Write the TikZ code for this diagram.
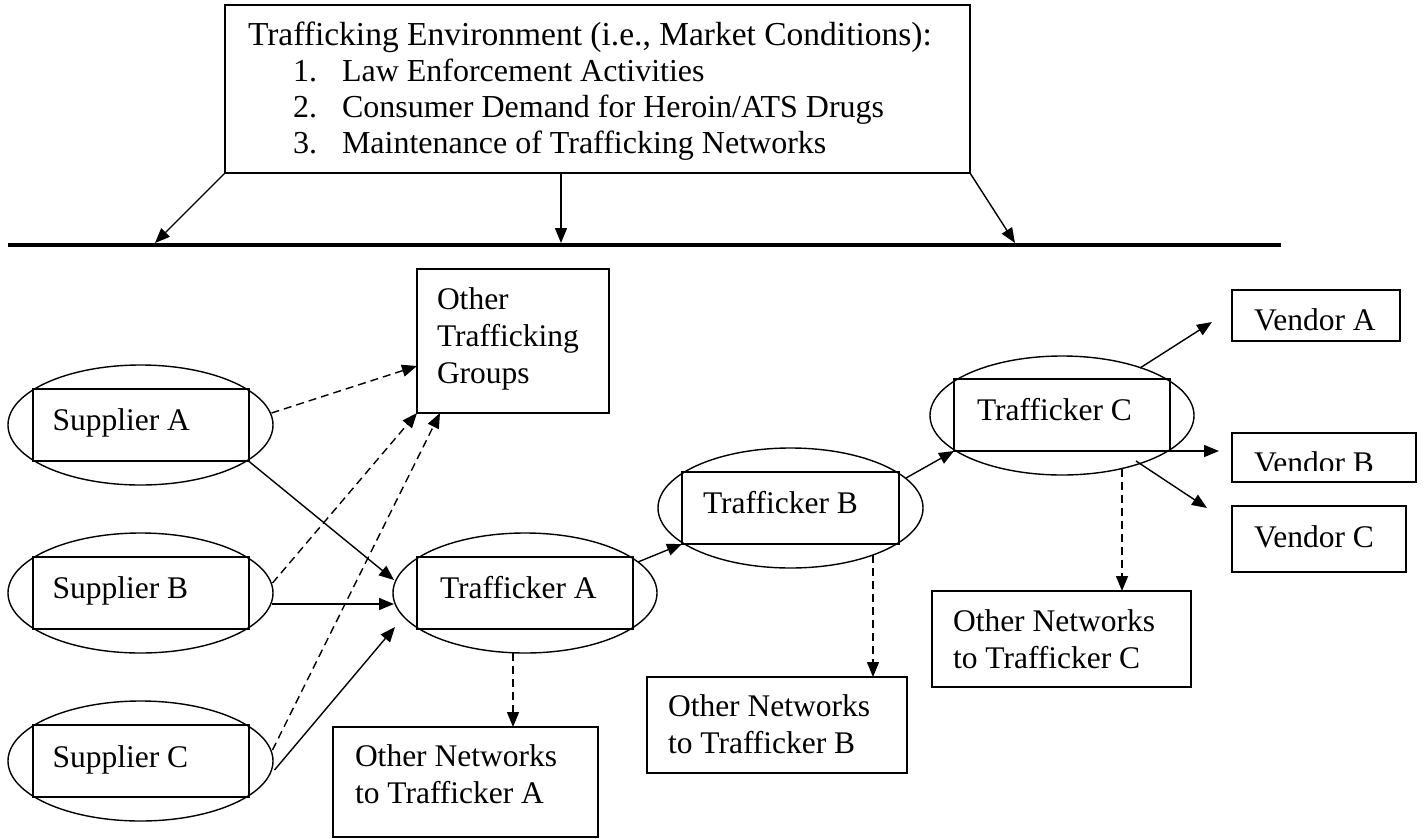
\documentclass[tikz,border=0pt]{standalone}
\usepackage{fontspec}
\setmainfont{Liberation Serif}
\usetikzlibrary{shapes.geometric,arrows.meta,calc}
\begin{document}
\begin{tikzpicture}[x=1pt,y=-1pt,
  rbox/.style={draw, rectangle, line width=2pt, inner sep=0, outer sep=0},
  ell/.style={draw, ellipse, line width=1.4pt, inner sep=0, outer sep=0},
  txt/.style={inner sep=0, outer sep=0, anchor=base west, align=left, font=\fontsize{31.5}{36.5}\selectfont},
  toptxt/.style={txt, font=\fontsize{32}{36}\selectfont},
  arr/.style={line width=1.4pt, -{Triangle[length=15pt,width=12pt]}},
  dsh/.style={arr, dash pattern=on 8pt off 5pt},
]
\useasboundingbox (0,0) rectangle (1424,838);

% top box
\node[rbox, minimum width=745, minimum height=168] (env) at (597.5,89) {};
\node[toptxt, font=\fontsize{33.5}{36}\selectfont] (envT) at (248,45) {Trafficking Environment (i.e., Market Conditions):};
\node[toptxt] (e1n) at (293,81) {1.};
\node[toptxt] (e1) at (342,81) {Law Enforcement Activities};
\node[toptxt] (e2n) at (293,117) {2.};
\node[toptxt] (e2) at (342,117) {Consumer Demand for Heroin/ATS Drugs};
\node[toptxt] (e3n) at (293,153) {3.};
\node[toptxt] (e3) at (342,153) {Maintenance of Trafficking Networks};

% horizontal bar
\coordinate (hl1) at (8,245);
\coordinate (hl2) at (1281,245);
\draw[line width=4pt] (hl1) -- (hl2);
\coordinate (t1) at (155,243);
\coordinate (t2) at (561,243);
\coordinate (t3) at (1015,243);
\draw[arr] (env.south west) -- (t1);
\draw[arr] (env.south -| t2) -- (t2);
\draw[arr] (env.south east) -- (t3);

% suppliers
\node[ell, minimum width=265, minimum height=120] (saE) at (140.5,425) {};
\node[rbox, minimum width=216, minimum height=72] (saR) at (140.5,425) {};
\node[txt] (saT) at ($(saR.west)+(20,5)$) {Supplier A};
\node[ell, minimum width=265, minimum height=120] (sbE) at (140.5,593) {};
\node[rbox, minimum width=216, minimum height=72] (sbR) at (140.5,593) {};
\node[txt] (sbT) at ($(sbR.west)+(20,5)$) {Supplier B};
\node[ell, minimum width=265, minimum height=120] (scE) at (140.5,761) {};
\node[rbox, minimum width=216, minimum height=72] (scR) at (140.5,761) {};
\node[txt] (scT) at ($(scR.west)+(20,6)$) {Supplier C};

% other trafficking groups (base anchor = last line)
\node[rbox, minimum width=192, minimum height=144] (og) at (513,341) {};
\node[txt, font=\fontsize{31.5}{37}\selectfont] (ogT) at (437,383) {Other\\Trafficking\\Groups};

% traffickers
\node[ell, minimum width=264, minimum height=120] (taE) at (525,593) {};
\node[rbox, minimum width=216, minimum height=72] (taR) at (525,593) {};
\node[txt] (taT) at ($(taR.west)+(23,5)$) {Trafficker A};
\node[ell, minimum width=265, minimum height=120] (tbE) at (790.5,508) {};
\node[rbox, minimum width=217, minimum height=72] (tbR) at (790.5,508) {};
\node[txt] (tbT) at ($(tbR.west)+(21,5)$) {Trafficker B};
\node[ell, minimum width=264, minimum height=119] (tcE) at (1062,415.5) {};
\node[rbox, minimum width=216, minimum height=72] (tcR) at (1062,415) {};
\node[txt] (tcT) at ($(tcR.west)+(23,5)$) {Trafficker C};

% other networks (base anchor = last line)
\node[rbox, minimum width=265, minimum height=110] (otA) at (465.5,782) {};
\node[txt] (otAT) at (355,803) {Other Networks\\to Trafficker A};
\node[rbox, minimum width=260, minimum height=96] (otB) at (777,725) {};
\node[txt] (otBT) at (668,753) {Other Networks\\to Trafficker B};
\node[rbox, minimum width=259, minimum height=96] (otC) at (1061.5,639) {};
\node[txt] (otCT) at (953,668) {Other Networks\\to Trafficker C};

% vendors
\node[rbox, minimum width=168, minimum height=51] (vA) at (1316,315.5) {};
\node[txt] (vAT) at ($(vA.west)+(22,14.5)$) {Vendor A};
\node[rbox, minimum width=184, minimum height=49] (vB) at (1324,457.5) {};
\begin{scope}
  \clip (1232,433) rectangle (1416,470.5);
  \node[txt] (vBT) at ($(vB.west)+(22,16)$) {Vendor B};
\end{scope}
\node[rbox, minimum width=174, minimum height=66] (vC) at (1319,539) {};
\node[txt] (vCT) at ($(vC.west)+(22,8)$) {Vendor C};

% supplier -> trafficker A
\draw[arr] (saR.south east) -- ($(taE.center)+(-131,-13)$);
\draw[arr] ($(sbE.center)+(131,11)$) -- ($(taE.center)+(-131,11)$);
\draw[arr] ($(scE.center)+(134,9)$) -- ($(taE.center)+(-130,34)$);

% supplier -> other groups (dashed)
\draw[dsh] ($(saE.center)+(131,-12)$) -- ($(og.west)+(0,25)$);
\draw[dsh] ($(sbE.center)+(132,-10)$) -- (og.south west);
\draw[dsh] ($(scE.center)+(132,-11)$) -- ($(og.south west)+(23,0)$);

% chain
\draw[arr] ($(taE.center)+(113,-31)$) -- (tbR.south west);
\draw[arr] ($(tbE.center)+(115.5,-30)$) -- (tcR.south west);

% to vendors
\draw[arr] ($(tcE.center)+(78,-47.5)$) -- ($(vA.west)+(-20,6.5)$);
\coordinate (vBtip) at ($(vB.west)+(-13,0)$);
\draw[arr] (tcR.south east) -- (tcR.south east -| vBtip);
\draw[arr] ($(tcE.center)+(74,45.5)$) -- ($(vC.west)+(-25,-31)$);

% dashed downs
\coordinate (dA) at ($(taE.south)+(-12,0)$);
\draw[dsh] (dA) -- (dA |- otA.north);
\coordinate (dB) at ($(tbE.center)+(82.5,47)$);
\draw[dsh] (dB) -- (dB |- otB.north);
\coordinate (dC) at ($(tcE.center)+(60,53)$);
\draw[dsh] (dC) -- (dC |- otC.north);
\end{tikzpicture}
\end{document}
